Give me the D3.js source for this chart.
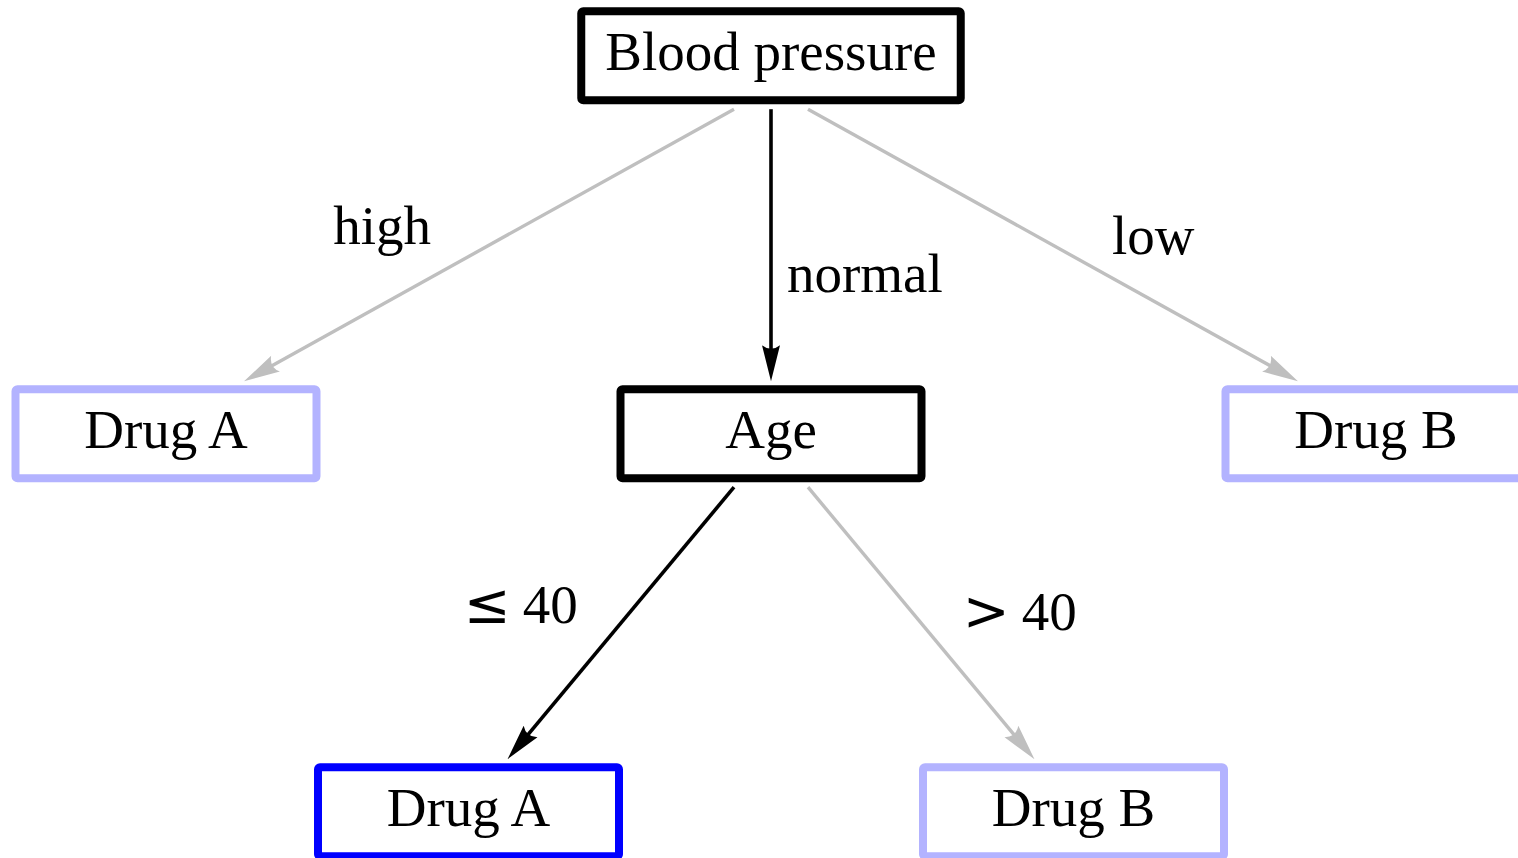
<!DOCTYPE html>
<html>
<head>
<meta charset="utf-8">
<script src="https://cdn.jsdelivr.net/npm/d3@7"></script>
<style>
  body { margin: 0; background: #fff; overflow: hidden; }
  svg { display: block; }
</style>
</head>
<body>
<svg id="chart" width="1518" height="858"></svg>
<script>
// tree data
const nodeIds     = ['bp', 'hiA', 'age', 'lowB', 'youngA', 'oldB'];
const nodeNames   = ['Blood pressure', 'Drug A', 'Age', 'Drug B', 'Drug A', 'Drug B'];
const nodeParents = [null, 'bp', 'bp', 'bp', 'age', 'age'];
const edgeLabels  = [null, 'high', 'normal', 'low', '\u2264 40', '> 40'];
// decision path taken: 'path' = inner node on path, 'leaf' = chosen leaf, 'off' = not taken
const nodeState   = ['path', 'off', 'path', 'off', 'leaf', 'off'];

const W = 1518, H = 858;
const FONT = '"Liberation Serif", "Times New Roman", serif';
const MATH = '"DejaVu Sans", sans-serif';

const rows = nodeIds.map((id, i) => ({
    id: id, parent: nodeParents[i], name: nodeNames[i],
    label: edgeLabels[i], state: nodeState[i]
}));

const root = d3.stratify()
    .id(d => d.id)
    .parentId(d => d.parent)(rows);

// layout
d3.tree().nodeSize([302.5, 378]).separation(() => 2)(root);

const sx = d3.scaleLinear().domain([0, 1]).range([771, 772]);
const sy = d3.scaleLinear().domain([0, 1]).range([55.7, 56.7]);

const svg = d3.select('#chart');

const boxH = 89, boxMinW = 301, stroke = 8;
const boxColor = {path: '#000000', leaf: '#0000ff', off: '#b3b3ff'};
const edgeColor = s => (s === 'off' ? '#bfbfbf' : '#000000');

// edges
const gEdges = svg.append('g');
const headL = 36, headW = 9;

root.links().forEach(l => {
    const s = l.source, t = l.target;
    const dir = Math.sign(t.x - s.x);
    const x1 = sx(s.x) + dir * 37, y1 = sy(s.y) + boxH / 2 + stroke / 2 + 5;
    const x2 = sx(t.x) + (sx(s.x) - sx(t.x)) * 0.129, y2 = sy(t.y) - boxH / 2 - stroke / 2 - 4;
    const len = Math.hypot(x2 - x1, y2 - y1);
    const ux = (x2 - x1) / len, uy = (y2 - y1) / len;
    const col = edgeColor(t.data.state);

    gEdges.append('line')
        .attr('x1', x1).attr('y1', y1)
        .attr('x2', x2 - ux * headL * 0.7).attr('y2', y2 - uy * headL * 0.7)
        .attr('stroke', col)
        .attr('stroke-width', t.data.state === 'off' ? 3.4 : 3.6);

    const bx = x2 - ux * headL, by = y2 - uy * headL;
    const head = d3.path();
    head.moveTo(x2, y2);
    head.lineTo(bx - uy * headW, by + ux * headW);
    head.quadraticCurveTo(x2 - ux * headL * 0.8, y2 - uy * headL * 0.8, bx + uy * headW, by - ux * headW);
    head.closePath();
    gEdges.append('path').attr('d', head.toString()).attr('fill', col);

    // edge label
    const mx = (x1 + x2) / 2, my = (y1 + y2) / 2;
    const lab = t.data.label;
    const nudge = {
        'high': [-58, -1], 'normal': [16, 47], 'low': [59, 9],
        '\u2264 40': [-43, 0], '> 40': [41.5, 7]
    }[lab] || [0, 0];
    const txt = gEdges.append('text')
        .attr('x', mx + nudge[0])
        .attr('y', my + nudge[1])
        .attr('text-anchor', nudge[0] < 0 ? 'end' : 'start')
        .attr('font-family', FONT)
        .attr('font-size', 55)
        .attr('fill', '#000');

    const parts = lab.split(' ');
    if (parts.length === 2 && /[\u2264>]/.test(parts[0])) {
        // relation symbol set larger, like a math relation
        txt.append('tspan').attr('font-family', MATH).attr('font-size', 56).text(parts[0]);
        txt.append('tspan').attr('dx', 12).text(parts[1]);
    } else {
        txt.text(lab);
    }
});

// nodes
const gNodes = svg.append('g')
    .selectAll('g')
    .data(root.descendants())
    .join('g')
    .attr('transform', d => `translate(${sx(d.x)},${sy(d.y)})`);

const rects = gNodes.append('rect')
    .attr('fill', '#fff')
    .attr('stroke', d => boxColor[d.data.state])
    .attr('stroke-width', stroke)
    .attr('rx', 2);

const texts = gNodes.append('text')
    .attr('text-anchor', 'middle')
    .attr('y', 14.5)
    .attr('font-family', FONT)
    .attr('font-size', 55)
    .attr('fill', '#000')
    .text(d => d.data.name);

texts.each(function(d) { d.tw = this.getComputedTextLength(); });

rects
    .attr('width', d => Math.max(boxMinW, d.tw + 48))
    .attr('height', boxH)
    .attr('x', d => -Math.max(boxMinW, d.tw + 48) / 2)
    .attr('y', -boxH / 2);
</script>
</body>
</html>
